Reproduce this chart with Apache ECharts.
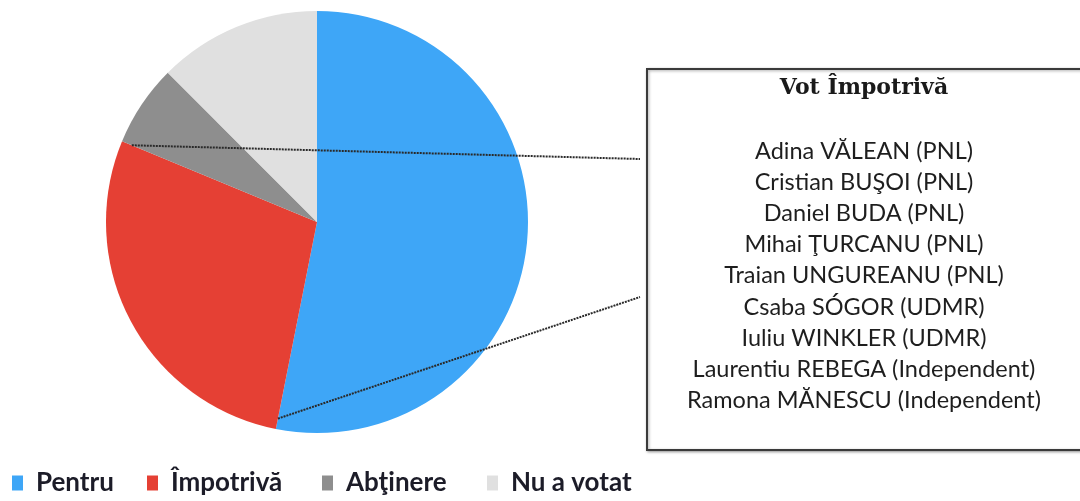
<!DOCTYPE html>
<html>
<head>
<meta charset="utf-8">
<script src="https://cdn.jsdelivr.net/npm/echarts@6/dist/echarts.min.js"></script>
<style>
html,body{margin:0;padding:0;background:#fff;}
#chart{width:1080px;height:501px;}
</style>
</head>
<body>
<div id="chart"></div>
<script>
// Data
const categories = ['Pentru', 'Împotrivă', 'Abţinere', 'Nu a votat'];
const votes = [17, 9, 2, 4];
const colors = ['#3EA6F7', '#E54034', '#8E8E8E', '#E0E0E0'];
const boxTitle = 'Vot Împotrivă';
const boxNames = [
  'Adina VĂLEAN (PNL)',
  'Cristian BUŞOI (PNL)',
  'Daniel BUDA (PNL)',
  'Mihai ŢURCANU (PNL)',
  'Traian UNGUREANU (PNL)',
  'Csaba SÓGOR (UDMR)',
  'Iuliu WINKLER (UDMR)',
  'Laurentiu REBEGA (Independent)',
  'Ramona MĂNESCU (Independent)'
];
const highlightIndex = 1;

// Layout
const cx = 317, cy = 222, R = 211;
const box = {x: 647, y: 69, w: 436, h: 381};
const textCx = 864;
const legendLefts = [12, 147, 322, 487];

const chart = echarts.init(document.getElementById('chart'));

const total = votes.reduce((a, b) => a + b, 0);
let before = 0;
for (let i = 0; i < highlightIndex; i++) before += votes[i];
const a0 = before / total * 2 * Math.PI;
const a1 = (before + votes[highlightIndex]) / total * 2 * Math.PI;
const rIn = R * 0.95;
function pt(a) { return [cx + rIn * Math.sin(a), cy - rIn * Math.cos(a)]; }
const p0 = pt(a0), p1 = pt(a1);

const graphics = [
  {
    type: 'rect', z: 10,
    shape: {x: box.x, y: box.y, width: box.w, height: box.h},
    style: {fill: '#fff', stroke: '#3a3a3a', lineWidth: 2,
      shadowColor: 'rgba(0,0,0,0.35)', shadowBlur: 3, shadowOffsetX: 1, shadowOffsetY: 1}
  },
  {
    type: 'text', z: 11,
    x: textCx, y: box.y + 19,
    style: {text: boxTitle, fill: '#1a1a1a', font: 'bold 22px "DejaVu Serif"',
      align: 'center', verticalAlign: 'middle'}
  },
  {
    type: 'line', z: 12,
    shape: {x1: p1[0], y1: p1[1], x2: 640, y2: 159},
    style: {stroke: '#2a2a2a', lineWidth: 2, lineDash: [2, 1]}
  },
  {
    type: 'line', z: 12,
    shape: {x1: p0[0], y1: p0[1], x2: 640, y2: 297},
    style: {stroke: '#2a2a2a', lineWidth: 2, lineDash: [2, 1]}
  }
];
boxNames.forEach((n, i) => {
  graphics.push({
    type: 'text', z: 11,
    x: textCx, y: 151 + i * 31.2,
    style: {text: n, fill: '#1e1e1e', font: '23.5px Lato', align: 'center', verticalAlign: 'middle'}
  });
});

const legends = categories.map((c, i) => ({
  data: [c],
  left: legendLefts[i], top: 470,
  padding: 0,
  itemWidth: 11, itemHeight: 15,
  icon: 'rect',
  selectedMode: false,
  textStyle: {fontFamily: 'Lato', fontWeight: 'bold', fontSize: 26, color: '#1c1c28', padding: [0, 0, 0, 8]}
}));

chart.setOption({
  animation: false,
  color: colors,
  legend: legends,
  series: [{
    type: 'pie',
    center: [cx, cy],
    radius: R,
    startAngle: 90,
    clockwise: true,
    label: {show: false},
    labelLine: {show: false},
    emphasis: {disabled: true},
    itemStyle: {borderWidth: 0},
    data: categories.map((c, i) => ({name: c, value: votes[i]}))
  }],
  graphic: graphics
});
</script>
</body>
</html>
